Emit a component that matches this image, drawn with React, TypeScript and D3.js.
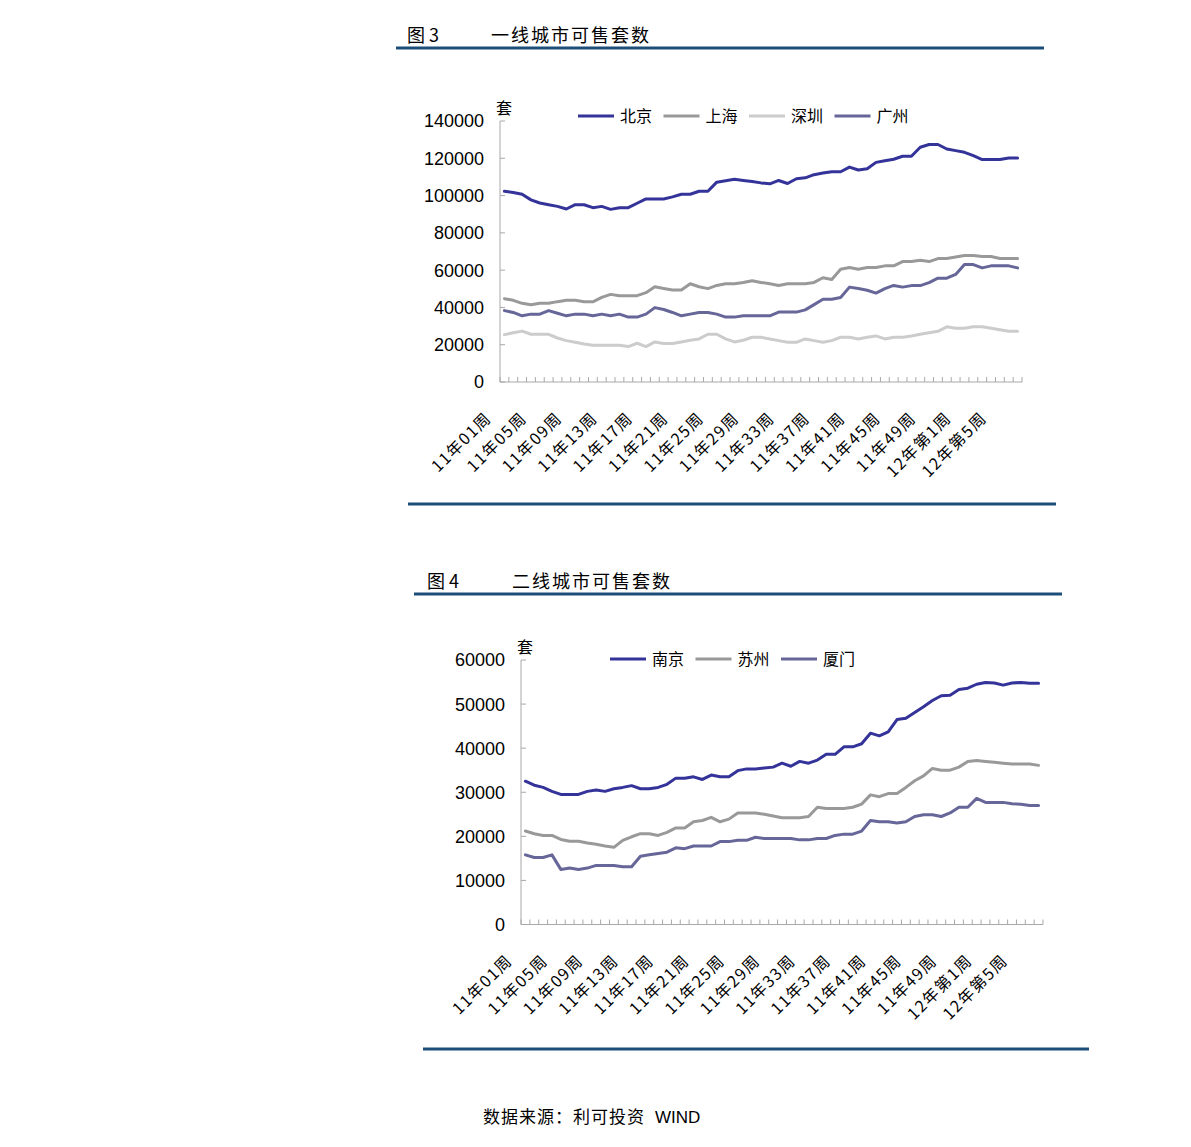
import React from "react";
import * as d3 from "d3";

const categories: string[] = [
  "11年01周","11年02周","11年03周","11年04周","11年05周","11年06周","11年07周","11年08周","11年09周","11年10周",
  "11年11周","11年12周","11年13周","11年14周","11年15周","11年16周","11年17周","11年18周","11年19周","11年20周",
  "11年21周","11年22周","11年23周","11年24周","11年25周","11年26周","11年27周","11年28周","11年29周","11年30周",
  "11年31周","11年32周","11年33周","11年34周","11年35周","11年36周","11年37周","11年38周","11年39周","11年40周",
  "11年41周","11年42周","11年43周","11年44周","11年45周","11年46周","11年47周","11年48周","11年49周","11年50周",
  "11年51周","11年52周","12年第1周","12年第2周","12年第3周","12年第4周","12年第5周","12年第6周","12年第7周",
];

const beijing = [102300,101600,100700,97700,96000,95100,94200,92800,95100,95100,93500,94200,92600,93500,93500,95900,98200,98200,98200,99300,100700,100700,102300,102300,107200,107900,108700,108100,107600,106800,106300,108100,106500,109000,109500,111200,112100,112800,112800,115300,113700,114400,117800,118700,119500,121100,121100,125900,127400,127400,125000,124100,123200,121400,119300,119300,119300,120200,120200];
const shanghai = [44700,43800,42200,41400,42200,42200,43100,43800,43800,43000,43000,45400,47000,46300,46300,46300,47900,51100,50200,49300,49300,52700,51100,50100,51800,52700,52700,53400,54300,53400,52700,51800,52700,52700,52700,53400,55900,55000,60500,61400,60500,61400,61400,62300,62300,64600,64600,65300,64600,66200,66200,67100,67800,67800,67300,67300,66200,66200,66200];
const shenzhen = [25400,26400,27300,25600,25600,25600,23600,22200,21300,20400,19700,19700,19700,19700,19000,20800,19000,21500,20600,20600,21500,22400,23100,25600,25600,23100,21500,22400,24000,24000,23100,22200,21300,21300,23100,22200,21300,22200,24000,24000,23100,24000,24700,23100,24000,24000,24700,25600,26400,27200,29600,28800,28800,29600,29600,28800,28000,27200,27200];
const guangzhou = [38300,37300,35500,36400,36400,38300,36900,35500,36400,36400,35500,36400,35500,36400,34800,34800,36400,39900,38900,37300,35500,36400,37300,37300,36400,34800,34800,35500,35500,35500,35500,37500,37500,37500,38700,41500,44400,44400,45300,50900,50100,49200,47700,50100,51800,50900,51700,51700,53300,55700,55700,57700,63000,63000,61200,62300,62300,62300,61200];

const nanjing = [32500,31600,31100,30200,29500,29500,29500,30200,30500,30200,30800,31100,31500,30800,30800,31100,31800,33200,33200,33500,32900,33900,33500,33500,34900,35300,35300,35500,35700,36600,35900,37000,36600,37300,38600,38600,40300,40300,41000,43400,42800,43700,46500,46800,48100,49400,50800,51900,52000,53300,53600,54500,54900,54800,54300,54800,54900,54700,54700];
const suzhou = [21200,20600,20200,20200,19300,18900,18900,18500,18200,17800,17500,19100,19900,20600,20600,20200,20900,21900,21900,23300,23600,24300,23300,23900,25300,25300,25300,25000,24600,24200,24200,24200,24500,26600,26300,26300,26300,26600,27300,29400,29000,29700,29700,31100,32600,33700,35400,35000,35000,35700,37000,37200,37000,36800,36600,36400,36400,36400,36100];
const xiamen = [15800,15200,15200,15800,12500,12800,12500,12800,13400,13400,13400,13100,13100,15500,15800,16100,16400,17400,17200,17800,17800,17800,18800,18800,19100,19100,19800,19500,19500,19500,19500,19200,19200,19500,19500,20200,20500,20500,21200,23600,23300,23300,23000,23300,24500,24900,24900,24500,25300,26600,26600,28600,27700,27700,27700,27400,27300,27000,27000];

const ticks1 = [0, 20000, 40000, 60000, 80000, 100000, 120000, 140000];
const ticks2 = [0, 10000, 20000, 30000, 40000, 50000, 60000];

const names1 = ["北京", "上海", "深圳", "广州"];
const names2 = ["南京", "苏州", "厦门"];

const C_DARK = "#333399";
const C_GRAY = "#999999";
const C_LIGHT = "#CCCCCC";
const C_SLATE = "#666699";
const RULE = "#1d4e7a";
const AXIS = "#a8a8a8";
const CJK = "'Noto Sans CJK SC', 'Noto Sans', sans-serif";
const NUM = "'Liberation Sans', Arial, sans-serif";

type Series = { name: string; values: number[]; color: string };

function Chart(props: {
  x0: number; x1: number; yZero: number; yTop: number; yMax: number;
  ticks: number[]; series: Series[]; legendX: number; legendY: number;
}) {
  const { x0, x1, yZero, yTop, yMax, ticks, series, legendX, legendY } = props;
  const xb = d3.scaleBand<string>().domain(categories).range([x0, x1]).padding(0);
  const bw = xb.bandwidth();
  const y = d3.scaleLinear().domain([0, yMax]).range([yZero, yTop]);
  const line = d3.line<number>()
    .x((_, i) => (xb(categories[i]) as number) + bw / 2)
    .y((v) => y(v));
  const boundaries = d3.range(categories.length + 1).map((i) => x0 + i * bw);
  return (
    <g>
      <line x1={x0} x2={x0} y1={y(yMax)} y2={yZero} stroke={AXIS} strokeWidth={1} />
      {ticks.map((t) => (
        <g key={t}>
          <line x1={x0} x2={x0 + 5} y1={y(t)} y2={y(t)} stroke={AXIS} strokeWidth={1} />
          <text x={x0 - 16} y={y(t)} dy="0.36em" textAnchor="end" fontFamily={NUM} fontSize={18} fill="#000">
            {t}
          </text>
        </g>
      ))}
      <text x={x0 + 4} y={y(yMax) - 7} textAnchor="middle" fontFamily={CJK} fontSize={16} fill="#000">套</text>
      <line x1={x0} x2={x1} y1={yZero} y2={yZero} stroke={AXIS} strokeWidth={1} />
      {boundaries.map((bx, i) => (
        <line key={i} x1={bx} x2={bx} y1={yZero} y2={yZero - 5} stroke={AXIS} strokeWidth={1} />
      ))}
      {categories.map((c, i) =>
        i % 4 === 0 ? (
          <text
            key={c}
            transform={`translate(${(xb(c) as number) + bw / 2 - 12},${yZero + 37}) rotate(-45)`}
            textAnchor="end"
            fontFamily={CJK}
            fontSize={16}
            letterSpacing={1.5}
            fill="#000"
          >
            {c}
          </text>
        ) : null
      )}
      {series.map((s) => (
        <path key={s.name} d={line(s.values) as string} fill="none" stroke={s.color} strokeWidth={3} strokeLinejoin="round" strokeLinecap="round" />
      ))}
      {series.map((s, i) => {
        const lx = legendX + i * 85.5;
        return (
          <g key={"lg" + s.name}>
            <line x1={lx} x2={lx + 36} y1={legendY} y2={legendY} stroke={s.color} strokeWidth={3} />
            <text x={lx + 42} y={legendY} dy="0.36em" fontFamily={CJK} fontSize={16} fill="#000">{s.name}</text>
          </g>
        );
      })}
    </g>
  );
}

export default function App() {
  const s1: Series[] = [
    { name: names1[0], values: beijing, color: C_DARK },
    { name: names1[1], values: shanghai, color: C_GRAY },
    { name: names1[2], values: shenzhen, color: C_LIGHT },
    { name: names1[3], values: guangzhou, color: C_SLATE },
  ];
  const s2: Series[] = [
    { name: names2[0], values: nanjing, color: C_DARK },
    { name: names2[1], values: suzhou, color: C_GRAY },
    { name: names2[2], values: xiamen, color: C_SLATE },
  ];
  return (
    <svg width={1191} height={1147} style={{ position: "absolute", left: 0, top: 0, background: "#fff" }}>
      <rect x={0} y={0} width={1191} height={1147} fill="#fff" />
      <text x={407} y={42} fontFamily={CJK} fontSize={18} fill="#000">图 3</text>
      <text x={491} y={42} fontFamily={CJK} fontSize={18} letterSpacing={2} fill="#000">一线城市可售套数</text>
      <line x1={396} x2={1044} y1={48} y2={48} stroke={RULE} strokeWidth={3} />
      <Chart x0={500} x1={1022} yZero={382} yTop={121} yMax={140000} ticks={ticks1} series={s1} legendX={578} legendY={116} />
      <line x1={408} x2={1056} y1={504} y2={504} stroke={RULE} strokeWidth={3} />
      <text x={427} y={588} fontFamily={CJK} fontSize={18} fill="#000">图 4</text>
      <text x={512} y={588} fontFamily={CJK} fontSize={18} letterSpacing={2} fill="#000">二线城市可售套数</text>
      <line x1={414} x2={1062} y1={594} y2={594} stroke={RULE} strokeWidth={3} />
      <Chart x0={521} x1={1043} yZero={924.5} yTop={660} yMax={60000} ticks={ticks2} series={s2} legendX={610} legendY={659} />
      <line x1={423} x2={1089} y1={1049} y2={1049} stroke={RULE} strokeWidth={3} />
      <text x={483} y={1123} fontFamily={CJK} fontSize={17} letterSpacing={1} fill="#000">数据来源：利可投资</text>
      <text x={655} y={1123} fontFamily={NUM} fontSize={17} fill="#000">WIND</text>
    </svg>
  );
}
